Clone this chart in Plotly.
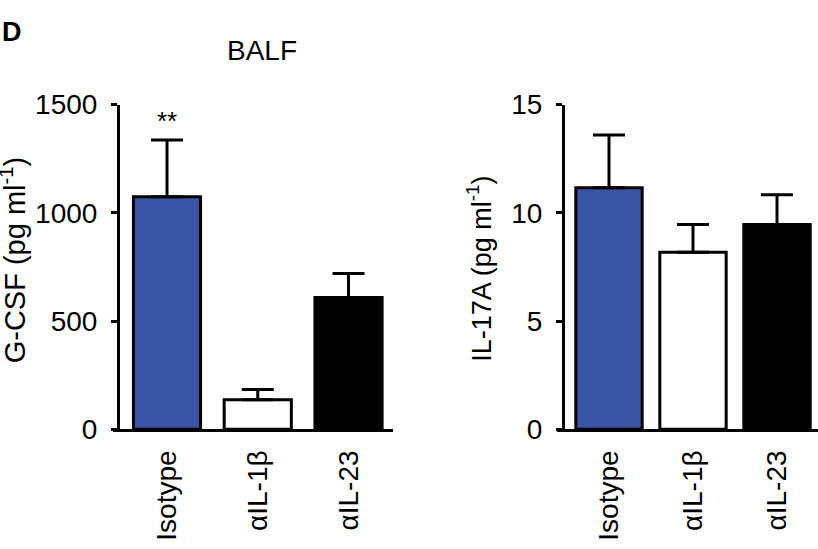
import plotly.graph_objects as go

# ---- data ----
categories = ["Isotype", "αIL-1β", "αIL-23"]
gcsf_mean = [1074, 136, 609]
gcsf_sem = [263, 48, 111]
il17_mean = [11.16, 8.18, 9.46]
il17_sem = [2.44, 1.28, 1.38]
gcsf_ticks = [0, 500, 1000, 1500]
il17_ticks = [0, 5, 10, 15]
bar_colors = ["#3B54A5", "white", "black"]

W, H = 818, 549
FONT = "Liberation Sans, Arial, sans-serif"

def px(x):
    return x / W

def py(y):
    return 1 - y / H

fig = go.Figure()

fig.add_trace(go.Bar(
    x=categories, y=gcsf_mean, xaxis="x", yaxis="y",
    marker=dict(color=bar_colors, line=dict(color="black", width=3)),
    width=0.74,
    error_y=dict(type="data", array=gcsf_sem, arrayminus=[0, 0, 0], symmetric=False,
                 thickness=3, width=16, color="black"),
    showlegend=False,
))
fig.add_trace(go.Bar(
    x=categories, y=il17_mean, xaxis="x2", yaxis="y2",
    marker=dict(color=bar_colors, line=dict(color="black", width=3)),
    width=0.79,
    error_y=dict(type="data", array=il17_sem, arrayminus=[0, 0, 0], symmetric=False,
                 thickness=3, width=16, color="black"),
    showlegend=False,
))

ydom = [py(439), py(95)]
axis_common = dict(showline=True, linecolor="black", linewidth=3, showgrid=False,
                   zeroline=False, tickfont=dict(family=FONT, size=28, color="black"))

fig.update_layout(
    width=W, height=H,
    margin=dict(l=0, r=0, t=0, b=0),
    paper_bgcolor="white", plot_bgcolor="white",
    xaxis=dict(domain=[px(113), px(393)], anchor="y", type="category",
               range=[-0.595, 2.49], tickangle=-90, ticks="", ticklabelstandoff=7,
               **axis_common),
    yaxis=dict(domain=ydom, anchor="free", position=px(118), range=[0, 1500],
               tickvals=gcsf_ticks, ticks="outside", ticklen=6, tickwidth=3,
               tickcolor="black", ticklabelstandoff=8, **axis_common),
    xaxis2=dict(domain=[px(557), 1.0], anchor="y2", type="category",
                range=[-0.619, 2.488], tickangle=-90, ticks="", ticklabelstandoff=7,
                **axis_common),
    yaxis2=dict(domain=ydom, anchor="free", position=px(563), range=[0, 15],
                tickvals=il17_ticks, ticks="outside", ticklen=6, tickwidth=3,
                tickcolor="black", ticklabelstandoff=8, **axis_common),
)

annotations = [
    dict(text="<b>D</b>", x=px(0), y=py(0), xref="paper", yref="paper",
         xanchor="left", yanchor="top", showarrow=False,
         font=dict(family=FONT, size=27, color="black")),
    dict(text="BALF", x=px(262), y=py(38), xref="paper", yref="paper",
         xanchor="center", yanchor="middle", showarrow=False,
         font=dict(family=FONT, size=28, color="black")),
    dict(text="G-CSF (pg ml<sup>-1</sup>)", x=px(13), y=py(260), xref="paper", yref="paper",
         xanchor="center", yanchor="middle", textangle=-90, showarrow=False,
         font=dict(family=FONT, size=29, color="black")),
    dict(text="IL-17A (pg ml<sup>-1</sup>)", x=px(479), y=py(269), xref="paper", yref="paper",
         xanchor="center", yanchor="middle", textangle=-90, showarrow=False,
         font=dict(family=FONT, size=27, color="black")),
    dict(text="**", x=categories[0], y=gcsf_mean[0] + gcsf_sem[0], xref="x", yref="y",
         xanchor="center", yanchor="bottom", yshift=2, showarrow=False,
         font=dict(family=FONT, size=26, color="black")),
]
fig.update_layout(annotations=annotations)

fig.write_html("out.html", config={"displayModeBar": False},
               post_script="document.body.style.margin='0';")
